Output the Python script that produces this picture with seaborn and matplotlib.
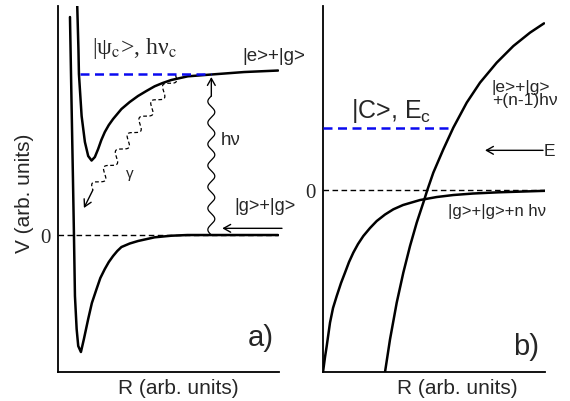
import numpy as np
import pandas as pd
import matplotlib
matplotlib.use("Agg")
import matplotlib.pyplot as plt
import seaborn as sns

# panel a) potential curves (R, V in arb. units)
a_ground_r = [12, 13.5, 15, 16, 17, 18.7, 20.3, 23, 26, 30.3, 34, 38.7, 42.5, 47, 51, 55.3, 59.5, 63.7, 72,
              80.3, 97, 113.7, 130, 221]
a_ground_v = [218, 136, 56, 0, -61, -94, -111, -117, -104, -84, -68, -54, -43, -34, -27, -21, -16, -12, -8.5,
              -6, -2.3, -0.7, 0, 0]
a_excited_r = [19.3, 20.5, 21, 23.7, 27, 30.3, 33.7, 37, 40.3, 43.5, 47, 51, 55.3, 63.7, 72, 80.3, 88.7, 97,
               105, 113.7, 130.3, 153.7, 187, 221]
a_excited_v = [229, 186, 161, 119, 93, 79, 74.5, 78, 86, 95, 103, 110, 116, 126, 133, 139, 144, 148.7,
               152, 155, 158.7, 160.5, 163, 164.5]
a_level_v = 161          # |psi_c>, h nu_c
a_level_r = [22, 154]

# panel b) dressed curves
b_ground_r = [0, 2, 3.7, 7, 10, 13.7, 18, 22, 26, 30.3, 35, 40.3, 47, 53.7, 62, 70.3, 80, 97, 113.7, 130.3,
              150, 175, 200, 222]
b_ground_v = [-182, -167, -156, -132.6, -118, -106, -93, -82.6, -72, -62.6, -54, -46, -38, -31, -24.5, -19.3,
              -15, -10, -7, -5, -3.5, -2.3, -1.5, -0.8]
b_excited_r = [62, 67, 73.7, 80.3, 87, 93.7, 100.3, 104.3, 110.3, 120.3, 130.3, 143.7, 157, 173.7, 190.3, 207, 221]
b_excited_v = [-182, -149.3, -112.6, -82.6, -56, -32.6, -12.6, 0, 17.4, 40.7, 62.4, 87.4, 107.4, 127.4, 144, 157.4, 166.7]
b_level_v = 62.4         # |C>, E_c
b_level_r = [0, 130.3]

# photons / arrows (start, end)
hnu_wave = [(154, 0), (154, 139)]
hnu_tip = (154, 158)
gamma_wave = [(118, 160), (35, 45)]
gamma_tip = (26, 27)
a_incoming = [(225, 6.7), (165, 6.7)]
b_incoming = [(220, 39.7), (162, 39.7)]

sns.set_style("white")
plt.rcParams['font.family'] = ['Liberation Sans', 'DejaVu Sans']
plt.rcParams['mathtext.fontset'] = 'custom'
plt.rcParams['mathtext.rm'] = 'Liberation Sans'

BLUE = '#0a0af0'
SERIF = ['Liberation Serif', 'DejaVu Serif']


def squiggle(ax, p0, p1, periods, amp, **kw):
    # decorative wavy photon line between two points
    p0, p1 = np.asarray(p0, float), np.asarray(p1, float)
    t = np.linspace(0, 1, 300)
    d = p1 - p0
    n = np.array([-d[1], d[0]]) / np.hypot(*d)
    pts = p0 + np.outer(t, d) + np.outer(amp * np.sin(2 * np.pi * periods * t), n)
    ax.plot(pts[:, 0], pts[:, 1], color='k', **kw)


def arrow(ax, tail, tip, lw=1.0):
    ax.annotate('', xy=tip, xytext=tail, annotation_clip=False,
                arrowprops=dict(arrowstyle='->,head_length=0.5,head_width=0.28',
                                lw=lw, color='k', shrinkA=0, shrinkB=0))


def curve(ax, r, v):
    df = pd.DataFrame({'R': r, 'V': v})
    sns.lineplot(data=df, x='R', y='V', ax=ax, sort=False, estimator=None,
                 color='k', lw=1.8)


fig = plt.figure(figsize=(5.7, 4.02), dpi=100)
ax_a = fig.add_axes([0.1018, 0.0721, 0.3877, 0.9104])
ax_b = fig.add_axes([0.5667, 0.0721, 0.3895, 0.9104])

curve(ax_a, a_ground_r, a_ground_v)
curve(ax_a, a_excited_r, a_excited_v)
curve(ax_b, b_ground_r, b_ground_v)
curve(ax_b, b_excited_r, b_excited_v)

for ax, ylim in [(ax_a, (-137, 229)), (ax_b, (-182, 184))]:
    ax.set_xlim(0, 222)
    ax.set_ylim(*ylim)
    sns.despine(ax=ax)
    for s in ('left', 'bottom'):
        ax.spines[s].set_linewidth(1.3)
        ax.spines[s].set_color('k')
    ax.set_xticks([])
    ax.set_yticks([0])
    ax.set_yticklabels(['0'], family=SERIF, fontsize=15)
    ax.tick_params(axis='y', length=3, width=1, pad=2, direction='out')
    ax.set_xlabel('')
    ax.set_ylabel('')
    ax.axhline(0, color='k', lw=1.0, dashes=(4, 2.5), zorder=1)

# ---- panel a
ax_a.hlines(a_level_v, *a_level_r, color=BLUE, lw=1.8, linestyles=(0, (3.6, 2.2)), zorder=3)

squiggle(ax_a, *hnu_wave, periods=6.5, amp=3.5, lw=0.9)
arrow(ax_a, hnu_wave[1], hnu_tip)
squiggle(ax_a, *gamma_wave, periods=7, amp=4.5, lw=0.9, dashes=(3, 2))
arrow(ax_a, gamma_wave[1], gamma_tip)
arrow(ax_a, *a_incoming)

ax_a.text(34.3, 181.7, r'|ψ$_\mathrm{c}$>, hν$_\mathrm{c}$', family=SERIF,
          fontsize=17, math_fontfamily='stix', va='baseline')
ax_a.text(185.3, 180, '|e>+|g>', fontsize=13.5, va='center', clip_on=False)
ax_a.text(163.7, 96, 'hν', fontsize=13.5, va='center')
ax_a.text(68, 62, 'γ', fontsize=11, va='center')
ax_a.text(177, 29.3, '|g>+|g>', fontsize=13, va='center', clip_on=False)
ax_a.text(191, -102, 'a)', fontsize=21, va='center')
ax_a.text(0.543, -0.041, 'R (arb. units)', transform=ax_a.transAxes,
          fontsize=15, ha='center', va='center')
ax_a.text(-0.15, 0.492, 'V (arb. units)', transform=ax_a.transAxes,
          fontsize=15, ha='center', va='center', rotation=90)

# ---- panel b
ax_b.hlines(b_level_v, *b_level_r, color=BLUE, lw=1.8, linestyles=(0, (3.6, 2.2)), zorder=3)
arrow(ax_b, *b_incoming)

ax_b.text(27.7, 73, r'|C>, E$_\mathrm{c}$', fontsize=18, va='baseline')
ax_b.text(168.7, 97, '|e>+|g>\n+(n-1)hν', fontsize=12.5, va='center',
          linespacing=0.8, clip_on=False)
ax_b.text(221, 39.7, 'E', fontsize=12.5, va='center', clip_on=False)
ax_b.text(125.3, -25.3, '|g>+|g>+n hν', fontsize=12, va='baseline')
ax_b.text(190, -156, 'b)', fontsize=21, va='center')
ax_b.text(0.604, -0.041, 'R (arb. units)', transform=ax_b.transAxes,
          fontsize=15, ha='center', va='center')

fig.savefig('out.png', dpi=100)
